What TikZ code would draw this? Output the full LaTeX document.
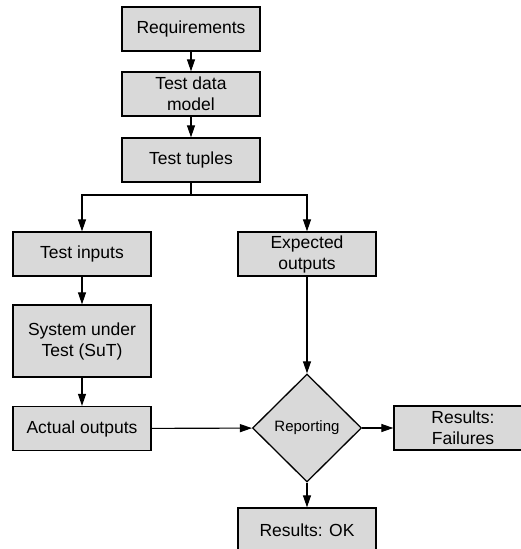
\documentclass[tikz,border=0pt]{standalone}
\usepackage{fontspec}
\setmainfont{Liberation Sans}
\usetikzlibrary{shapes.geometric,arrows.meta}
\definecolor{boxfill}{HTML}{D9D9D9}
\begin{document}
\begin{tikzpicture}[x=1pt,y=-1pt,
  stepbox/.style={draw=black, line width=1.3pt, fill=boxfill, rectangle,
    minimum width=138pt, minimum height=44pt, inner sep=0pt, align=center,
    font=\fontsize{17.5}{21}\selectfont},
  decision/.style={draw=black, line width=1.3pt, fill=boxfill, diamond,
    minimum width=109pt, minimum height=108pt, inner sep=0pt,
    font=\fontsize{15}{18}\selectfont},
  flow/.style={line width=1.1pt, -{Triangle[length=12pt,width=8pt]}}]
  \useasboundingbox (0,0) rectangle (521,549);
  \clip (0,0) rectangle (521,549);

  % pipeline boxes
  \node[stepbox] (req) at (191,29) {Requirements};
  \node[stepbox] (tdm) at (191,94) {Test data\\model};
  \node[stepbox] (tup) at (191,160) {Test tuples};
  \node[stepbox] (inp) at (82,254) {Test inputs};
  \node[stepbox] (exp) at (307,254) {Expected\\outputs};
  \node[stepbox, minimum height=72pt] (sut) at (82,341) {System under\\Test (SuT)};
  \node[stepbox] (act) at (82,428.5) {Actual outputs};
  \node[decision] (rep) at (307,428) {Reporting};
  \node[stepbox] (fail) at (463,428) {Results:\\Failures};
  \node[stepbox] (ok) at (307,530) {Results: OK};

  \coordinate (split) at (191,195);

  % connectors
  \draw[flow] (req) -- (tdm);
  \draw[flow] (tdm) -- (tup);
  \draw[line width=1.1pt] (tup) -- (split);
  \draw[flow] (split) -| (inp);
  \draw[flow] (split) -| (exp);
  \draw[flow] (inp) -- (sut);
  \draw[flow] (sut) -- (act);
  \draw[flow] (exp) -- (rep);
  \draw[flow] (act) -- (rep);
  \draw[flow] (rep) -- (fail);
  \draw[flow] (rep) -- (ok);
\end{tikzpicture}
\end{document}
